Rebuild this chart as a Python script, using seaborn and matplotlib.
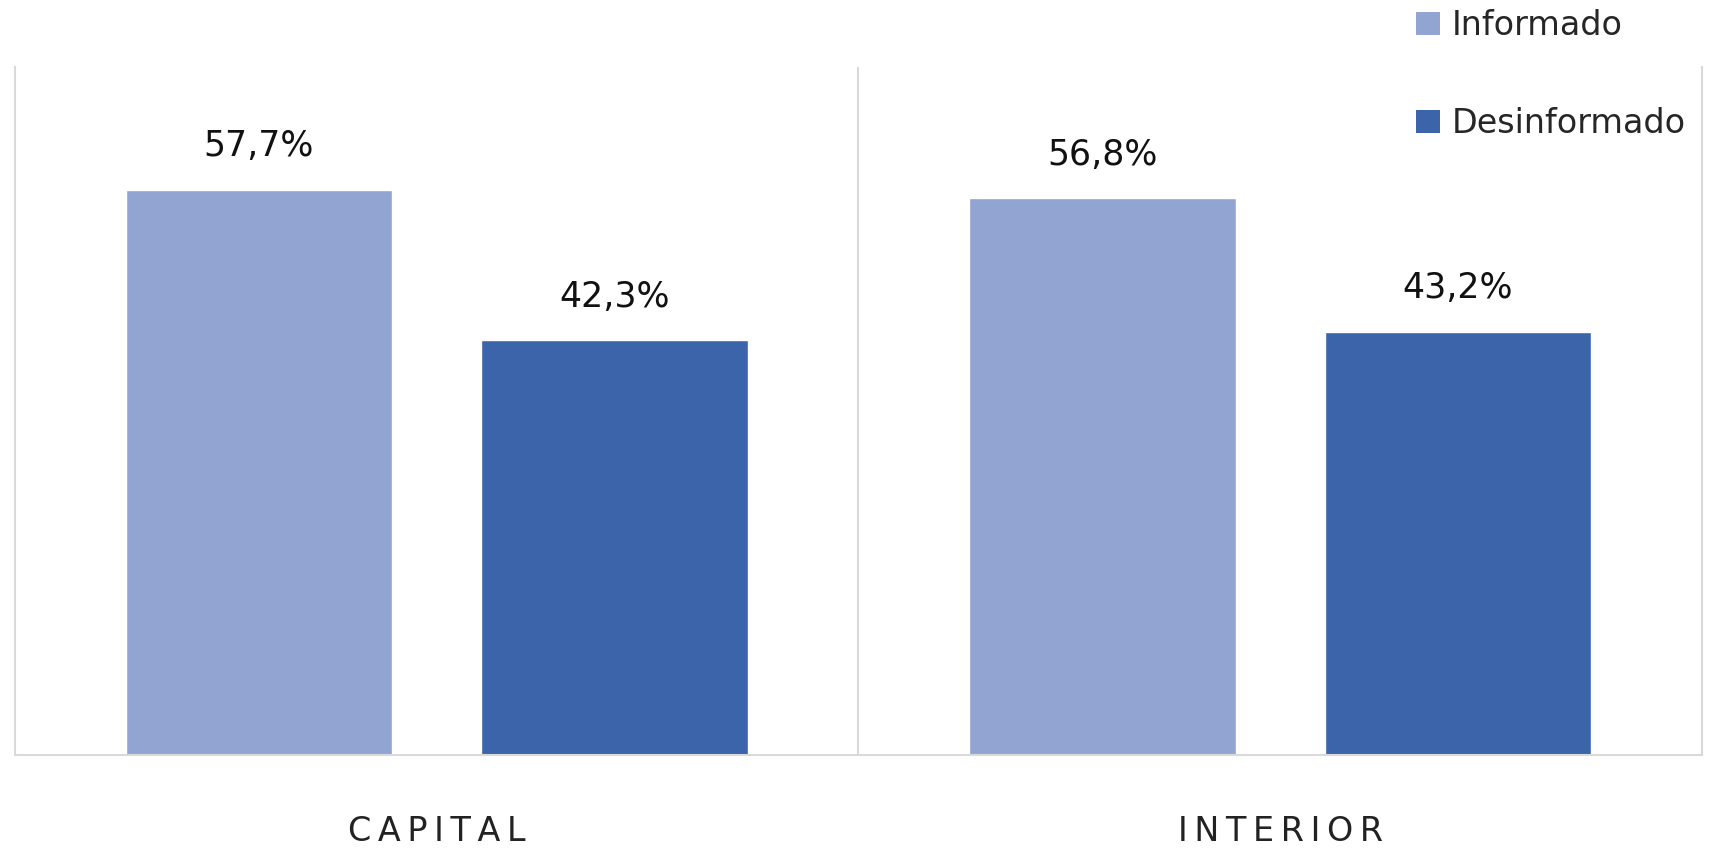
import matplotlib
matplotlib.use("Agg")
import matplotlib.pyplot as plt
import seaborn as sns
import pandas as pd
from matplotlib.patches import Patch

categories = ["CAPITAL", "INTERIOR"]
series = ["Informado", "Desinformado"]
informado = [57.7, 56.8]
desinformado = [42.3, 43.2]
colors = ["#91A4D2", "#3C64AA"]

df = pd.DataFrame({
    "local": categories * 2,
    "grupo": [series[0]] * 2 + [series[1]] * 2,
    "valor": informado + desinformado,
})

sns.set_theme(style="white")
plt.rcParams["font.family"] = ["DejaVu Sans"]

W, H = 1711, 849
fig = plt.figure(figsize=(W / 100, H / 100), dpi=100)
ax = fig.add_axes([15 / W, 1 - 755 / H, (1702 - 15) / W, (755 - 67) / H])

sns.barplot(data=df, x="local", y="valor", hue="grupo", order=categories,
            hue_order=series, palette=colors, width=0.843, gap=0.25,
            saturation=1, ax=ax, legend=False, errorbar=None)

ax.set_xlim(-0.5, 1.5)
ax.set_ylim(0, 70.2)
ax.set_xlabel("")
ax.set_ylabel("")
ax.set_yticks([])
ax.set_xticks(range(len(categories)))
ax.set_xticklabels(["\u2009".join(c) for c in categories])
ax.tick_params(axis="x", length=0, pad=43, labelsize=24)
for lab in ax.get_xticklabels():
    lab.set_color("#222222")

for side in ["left", "right", "bottom"]:
    ax.spines[side].set_color("#D9D9D9")
    ax.spines[side].set_linewidth(1.5)
ax.spines["top"].set_visible(False)
ax.axvline(0.5, color="#D9D9D9", lw=1.5)

for cont in ax.containers:
    ax.bar_label(cont, labels=[f"{v:.1f}%".replace(".", ",") for v in cont.datavalues],
                 padding=19, fontsize=25, color="#111111")

handles = [Patch(facecolor=c, edgecolor="none") for c in colors]
fig.legend(handles, series, loc="upper left", bbox_to_anchor=(1393 / W, 1.017),
           frameon=False, fontsize=24, handlelength=0.7, handleheight=0.7,
           handletextpad=0.35, labelspacing=1.95, borderaxespad=0.3)

fig.savefig("out.png", dpi=100)
